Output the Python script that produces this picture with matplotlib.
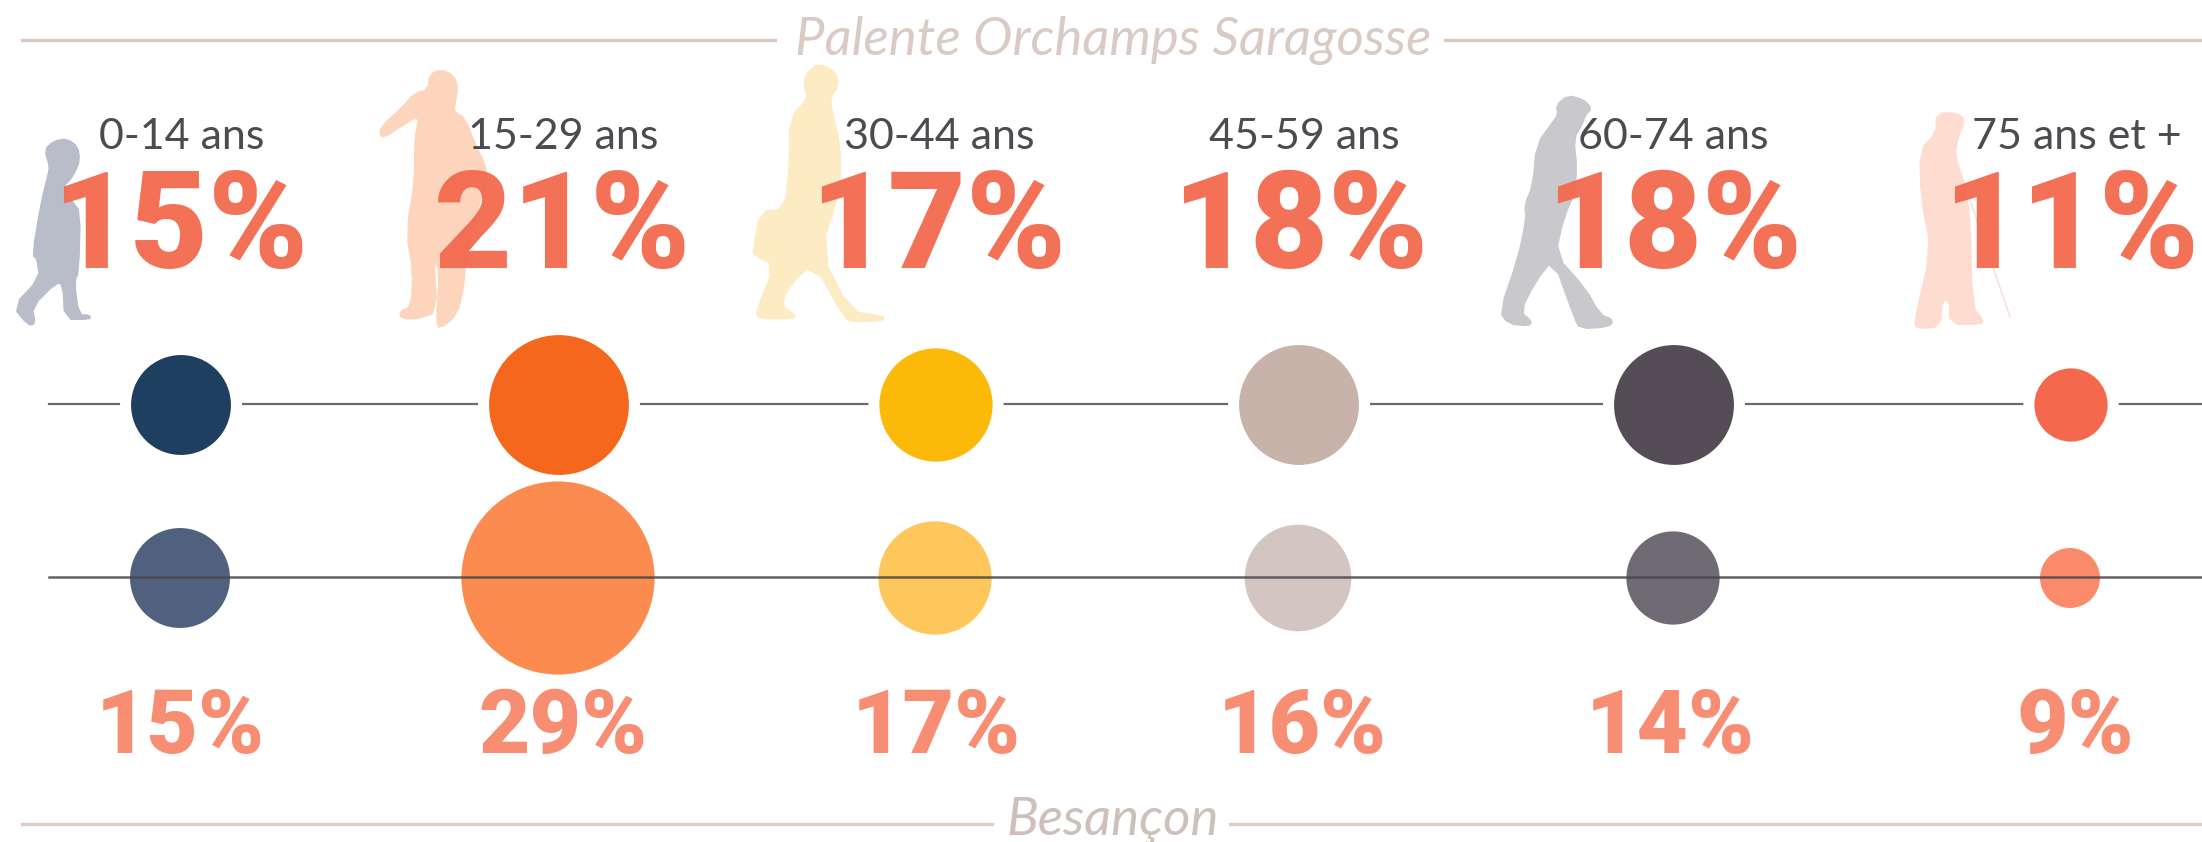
import matplotlib
matplotlib.use('Agg')
import matplotlib.pyplot as plt
from matplotlib.patches import Circle, Polygon

ages = ["0-14 ans", "15-29 ans", "30-44 ans", "45-59 ans", "60-74 ans", "75 ans et +"]
palente = [15, 21, 17, 18, 18, 11]
besancon = [15, 29, 17, 16, 14, 9]

col_x = [181, 559, 936, 1299, 1674, 2071]
age_x = [182, 563, 939, 1304, 1673, 2077]
top_x = [180, 562, 938, 1300, 1674, 2071]
low_x = [180, 563, 936, 1302, 1670, 2075]
px_per_point = 3.33

colors_top = ['#1F3F60', '#F6671E', '#FDB90A', '#C7B3AA', '#544D56', '#F4694D']
colors_low = ['#50617F', '#FB8B4F', '#FDC75C', '#D3C6C1', '#706A75', '#FB8A6A']

child = (0, 125, '#B9BCC9', [(135, 75), (160, 50), (200, 42), (232, 65), (238, 105), (225, 140), (205, 170), (190, 180),
                             (215, 230), (240, 260), (235, 440), (222, 470), (235, 570), (270, 572), (268, 582), (195, 582),
                             (190, 480), (170, 470), (95, 545), (105, 595), (85, 600), (40, 545), (120, 460), (112, 400),
                             (98, 390), (125, 230), (145, 150), (150, 125)])
young = (365, 55, '#FDD5BC', [(195, 60), (225, 45), (265, 60), (278, 100), (270, 140), (265, 170), (300, 190), (330, 270),
                              (360, 330), (365, 370), (340, 450), (300, 620), (295, 700), (275, 780), (225, 820), (215, 800),
                              (225, 650), (205, 600), (215, 770), (160, 790), (110, 790), (105, 770), (140, 755), (145, 650),
                              (125, 530), (150, 380), (150, 250), (165, 180), (120, 205), (60, 245), (45, 240), (50, 215),
                              (110, 160), (150, 115), (190, 105)])
adult = (740, 55, '#FDEBC4', [(195, 60), (235, 25), (285, 50), (295, 90), (270, 130), (275, 170), (300, 270), (300, 400),
                              (240, 590), (330, 770), (430, 785), (430, 795), (340, 800), (315, 790), (220, 620), (140, 700),
                              (125, 755), (165, 780), (160, 790), (55, 790), (50, 770), (105, 630), (45, 600), (40, 590),
                              (60, 470), (135, 465), (150, 330), (150, 190), (205, 130), (195, 100)])
older = (1485, 85, '#C8C8CD', [(215, 60), (250, 32), (295, 45), (320, 70), (300, 90), (290, 120), (265, 160), (275, 250),
                               (265, 330), (235, 400), (210, 510), (300, 610), (345, 690), (385, 705), (370, 725), (285, 730),
                               (270, 700), (205, 520), (150, 590), (105, 680), (140, 710), (130, 722), (70, 715), (45, 680),
                               (100, 520), (125, 400), (120, 360), (145, 300), (155, 180), (205, 110), (220, 90)])
elder = (1900, 100, '#FEDCD0', [(110, 40), (170, 40), (195, 60), (170, 120), (165, 170), (190, 250), (210, 350), (215, 620),
                                (250, 660), (240, 672), (150, 672), (150, 600), (125, 600), (120, 680), (50, 685), (45, 660),
                                (95, 450), (65, 300), (60, 150), (110, 100)])


def smooth(pts, n=1):
    # corner cutting so the traced outlines do not look faceted
    for _ in range(n):
        new = []
        for i in range(len(pts)):
            a = pts[i]
            b = pts[(i + 1) % len(pts)]
            new.append((0.75 * a[0] + 0.25 * b[0], 0.75 * a[1] + 0.25 * b[1]))
            new.append((0.25 * a[0] + 0.75 * b[0], 0.25 * a[1] + 0.75 * b[1]))
        pts = new
    return pts


fig = plt.figure(figsize=(22.02, 8.42), dpi=100)
ax = fig.add_axes([0, 0, 1, 1])
ax.set_xlim(0, 2202)
ax.set_ylim(842, 0)
ax.axis('off')

for x0, y0, fill, pts in [child, young, adult, older, elder]:
    outline = [(x0 + p[0] / 3, y0 + p[1] / 3) for p in smooth(pts)]
    ax.add_patch(Polygon(outline, closed=True, fc=fill, ec=fill, lw=1.5, joinstyle='round', zorder=1))
# cane
ax.plot([1900 + 165 / 3, 1900 + 330 / 3], [100 + 170 / 3, 100 + 650 / 3], color='#F5E3DC', lw=1.2, zorder=1)

# header rules
rule = '#D8C9C2'
ax.plot([22, 775], [40, 40], color=rule, lw=2.4, zorder=1)
ax.plot([1445, 2202], [40, 40], color=rule, lw=2.4, zorder=1)
ax.plot([22, 992], [824, 824], color='#DCCDC9', lw=2.4, zorder=1)
ax.plot([1230, 2202], [824, 824], color='#DCCDC9', lw=2.4, zorder=1)
ax.text(1113, 55, "Palente Orchamps Saragosse", ha='center', va='baseline', family='Lato', style='italic',
        fontsize=38, color='#D9CBC4', zorder=3)
ax.text(1113, 835, "Besançon", ha='center', va='baseline', family='Lato', style='italic',
        fontsize=38, color='#CDC0BB', zorder=3)

# top row: line is broken by a white ring around each circle
ax.plot([49, 2202], [404, 404], color='#6E6A6C', lw=1.6, zorder=2)
for x, v, c in zip(col_x, palente, colors_top):
    r = v * px_per_point
    ax.add_patch(Circle((x, 405), r + 11, fc='white', ec='none', zorder=2.1))
    ax.add_patch(Circle((x, 405), r, fc=c, ec='none', zorder=2.2))

# bottom row: line runs over the circles
for x, v, c in zip(col_x, besancon, colors_low):
    ax.add_patch(Circle((x - 1, 578), v * px_per_point, fc=c, ec='none', zorder=2.3))
ax.plot([49, 2202], [577, 577], color='#4A4648', lw=1.8, alpha=0.85, zorder=2.4)

for x, lab in zip(age_x, ages):
    ax.text(x, 149, lab, ha='center', va='baseline', family='Lato', fontsize=31, color='#4D4A50', zorder=3)
for x, v in zip(top_x, palente):
    ax.text(x, 268, f"{v}%", ha='center', va='baseline', family='Roboto', fontweight='black',
            fontsize=97, color='#F26B50', alpha=0.96, zorder=3)
for x, v in zip(low_x, besancon):
    ax.text(x, 753, f"{v}%", ha='center', va='baseline', family='Roboto', fontweight='black',
            fontsize=64, color='#F78E73', zorder=3)

fig.savefig('out.png', dpi=100, facecolor='white')
